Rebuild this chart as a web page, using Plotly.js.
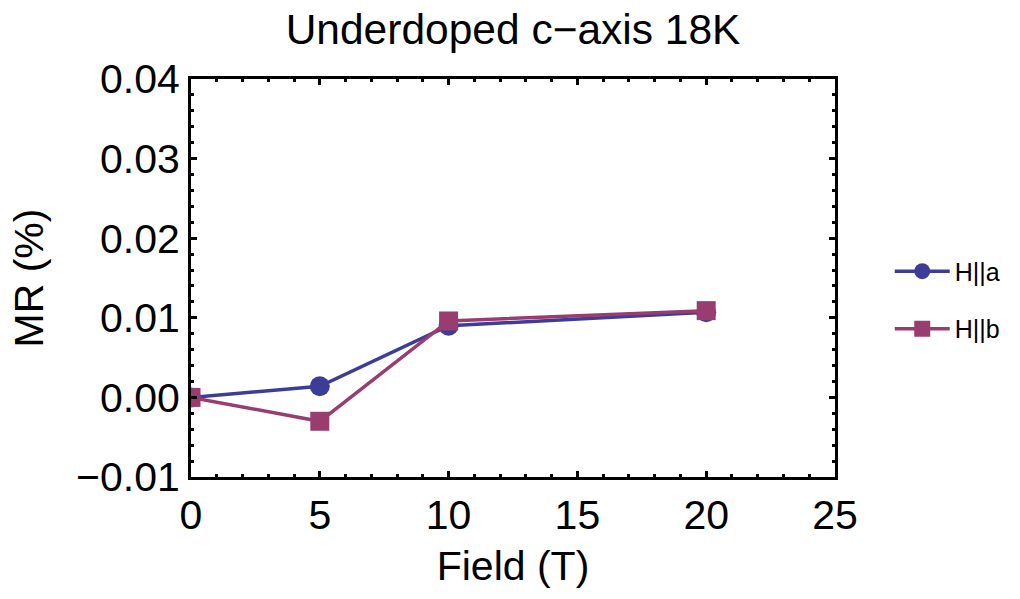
<!DOCTYPE html>
<html><head><meta charset="utf-8">
<script src="https://cdn.plot.ly/plotly-3.0.1.min.js"></script>
<style>html,body{margin:0;padding:0;background:#fff}#chart{width:1020px;height:599px}</style>
</head><body><div id="chart"></div>
<script>
const fieldA = [0, 5, 10, 20];
const mrA = [0.0, 0.0014, 0.0090, 0.0107];
const fieldB = [0, 5, 10, 20];
const mrB = [0.0, -0.0030, 0.0096, 0.0109];
const names = ["H||a", "H||b"];
const yTicks = [-0.01, 0.0, 0.01, 0.02, 0.03, 0.04];
const yTickText = ["\u22120.01", "0.00", "0.01", "0.02", "0.03", "0.04"];

const font = "Liberation Sans, Arial, sans-serif";
const traces = [
  {x: fieldA, y: mrA, name: names[0], mode: "lines+markers", legendgroup: "a",
   line: {color: "#3D3D99", width: 3.5}, marker: {symbol: "circle", size: 20, color: "#3D3D99"}},
  {x: fieldB, y: mrB, name: names[1], mode: "lines+markers", legendgroup: "b",
   line: {color: "#993D71", width: 3.5}, marker: {symbol: "square", size: 19, color: "#993D71"}}
];
const axisCommon = {
  showgrid: false, zeroline: false, showline: true, linewidth: 3, linecolor: "#000",
  mirror: "allticks", ticks: "inside", ticklen: 6, tickwidth: 3, tickcolor: "#000",
  tickfont: {family: font, size: 41, color: "#000"}
};
const layout = {
  width: 1020, height: 599,
  margin: {l: 191, r: 185, t: 79, b: 122},
  paper_bgcolor: "#fff", plot_bgcolor: "#fff",
  title: {text: "Underdoped c\u2212axis 18K", font: {family: font, size: 42.5, color: "#000"},
          x: 0.503, xanchor: "center", y: 0.952, yanchor: "middle"},
  xaxis: Object.assign({}, axisCommon, {
    range: [0, 25], tickmode: "array", tickvals: [0, 5, 10, 15, 20, 25],
    minor: {dtick: 1, ticklen: 3, tickwidth: 3, tickcolor: "#000", ticks: "inside"},
    title: {text: "Field (T)", font: {family: font, size: 41, color: "#000"}, standoff: 15}
  }),
  yaxis: Object.assign({}, axisCommon, {
    range: [-0.01, 0.04], tickmode: "array", tickvals: yTicks, ticktext: yTickText,
    minor: {dtick: 0.002, ticklen: 3, tickwidth: 3, tickcolor: "#000", ticks: "inside"},
    title: {text: "MR (%)", font: {family: font, size: 41, color: "#000"}, standoff: 20}
  }),
  showlegend: true,
  legend: {x: 1.085, y: 0.445, xanchor: "left", yanchor: "middle", itemwidth: 55,
           font: {family: font, size: 25, color: "#000"}, tracegroupgap: 22,
           bgcolor: "rgba(0,0,0,0)"}
};
Plotly.newPlot("chart", traces, layout, {displayModeBar: false, staticPlot: true});
</script></body></html>
